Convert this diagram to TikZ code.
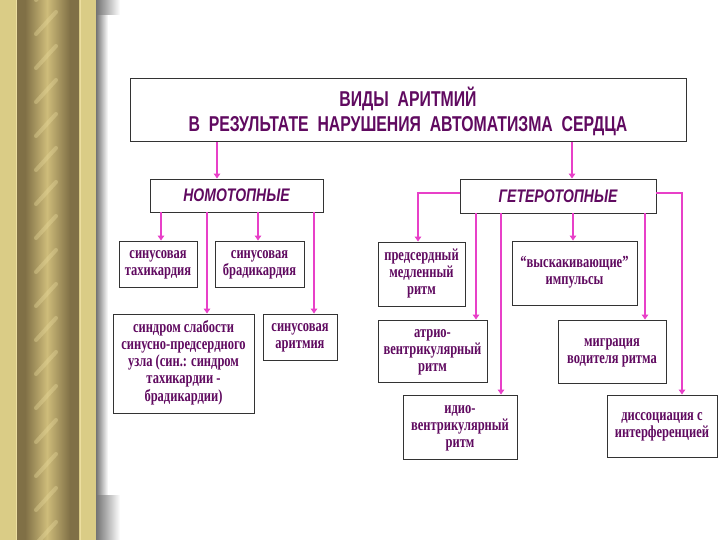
\documentclass[tikz,border=0pt]{standalone}
\usepackage{fontspec}
\setmainfont{Liberation Serif}
\newfontfamily\hdfont{Liberation Sans}
\usepackage{graphicx}
\usetikzlibrary{arrows.meta,calc}
\definecolor{txtc}{RGB}{96,10,96}
\definecolor{arrc}{RGB}{232,64,200}
\definecolor{khaki}{RGB}{218,204,134}
\definecolor{olivec}{RGB}{128,112,70}
\definecolor{goldc}{RGB}{206,188,122}
\definecolor{goldhi}{RGB}{236,222,160}
\newcommand\stx[1]{\scalebox{1}[1.35]{\begin{tabular}{@{}c@{}}#1\end{tabular}}}
\tikzset{
  boxst/.style={draw=black!80, line width=0.9pt, fill=white, inner sep=0pt,
    text=txtc, font=\fontsize{12.5}{12.6}\selectfont\bfseries},
  hdst/.style={boxst, font=\hdfont\bfseries\itshape\fontsize{14}{16}\selectfont},
  arr/.style={draw=arrc, line width=2pt, -{Triangle[width=6.5pt,length=5pt]}}
}
\begin{document}
\begin{tikzpicture}[x=1pt,y=-1pt]
\useasboundingbox (0,0) rectangle (720,540);
% background
\fill[white] (0,0) rectangle (720,540);
\fill[khaki] (0,0) rectangle (96,540);
\fill[olivec] (17,0) rectangle (25,540);
\shade[left color=olivec, right color=goldc] (25,0) rectangle (47,540);
\shade[left color=goldc, right color=olivec] (47,0) rectangle (70,540);
\fill[olivec] (70,0) rectangle (79,540);
\draw[goldhi, line width=0.8pt] (16,0) -- (16,540);
\draw[goldhi, line width=0.8pt] (80,0) -- (80,540);
\begin{scope}
  \clip (25,0) rectangle (70,540);
  \foreach \yy in {0,34,...,580}{
    \draw[goldhi, opacity=0.35, line width=4pt, line cap=round] (36,\yy) -- (56,\yy-22);
  }
\end{scope}
\shade[left color=black!55, right color=white] (96,15) rectangle (108,495);
\shade[left color=black!55, right color=white] (96,0) rectangle (120,15);
\shade[left color=black!55, right color=white] (96,495) rectangle (120,540);
% title
\node[boxst, minimum width=556pt, minimum height=63pt] (title) at (408,110) {};
\node[text=txtc, font=\hdfont\bfseries\fontsize{15.8}{18.8}\selectfont, inner sep=0pt] (ttl) at (408,113)
  {\scalebox{1}[1.36]{\begin{tabular}{@{}c@{}}ВИДЫ\ \ АРИТМИЙ\\ В\ \ РЕЗУЛЬТАТЕ\ \ НАРУШЕНИЯ\ \ АВТОМАТИЗМА\ \ СЕРДЦА\end{tabular}}};
% headers
\node[hdst, minimum width=173pt, minimum height=33pt] (nom) at (236.5,195.5) {\scalebox{1}[1.3]{НОМОТОПНЫЕ}};
\node[hdst, minimum width=196pt, minimum height=34pt] (get) at (558,196) {\scalebox{1}[1.3]{ГЕТЕРОТОПНЫЕ}};
% left boxes
\node[boxst, minimum width=78pt, minimum height=46pt] (tahi) at (158,264) {\stx{синусовая\\тахикардия}};
\node[boxst, minimum width=89pt, minimum height=46pt] (brad) at (259.5,264) {\stx{синусовая\\брадикардия}};
\node[boxst, minimum width=141pt, minimum height=99pt] (synd) at (183.5,363.5) {\stx{синдром слабости\\синусно-предсердного\\узла (син.: синдром\\тахикардии -\\брадикардии)}};
\node[boxst, minimum width=74pt, minimum height=46pt] (arit) at (300,337) {\stx{синусовая\\аритмия}};
% right boxes
\node[boxst, minimum width=87pt, minimum height=64pt] (pred) at (421.5,274) {\stx{предсердный\\медленный\\ритм}};
\node[boxst, minimum width=125pt, minimum height=64pt] (vysk) at (574.5,273) {\stx{“выскакивающие”\\импульсы}};
\node[boxst, minimum width=109pt, minimum height=62pt] (atrio) at (432.5,351) {\stx{атрио-\\вентрикулярный\\ритм}};
\node[boxst, minimum width=114pt, minimum height=64pt] (idio) at (460,427) {\stx{идио-\\вентрикулярный\\ритм}};
\node[boxst, minimum width=108pt, minimum height=63pt] (migr) at (612,351.5) {\stx{миграция\\водителя ритма}};
\node[boxst, minimum width=110pt, minimum height=62pt] (diss) at (662,426) {\stx{диссоциация с\\интерференцией}};
% x positions of connectors
\coordinate (xa) at (217,0);
\coordinate (xb) at (572,0);
\coordinate (xc) at (161,0);
\coordinate (xd) at (207,0);
\coordinate (xe) at (258,0);
\coordinate (xf) at (314,0);
\coordinate (xg) at (418,0);
\coordinate (xh) at (476,0);
\coordinate (xi) at (501,0);
\coordinate (xj) at (573,0);
\coordinate (xk) at (645,0);
\coordinate (xl) at (682,0);
\coordinate (yg) at (0,193);
% connectors
\draw[arr] (title.south -| xa) -- (nom.north -| xa);
\draw[arr] (title.south -| xb) -- (get.north -| xb);
\draw[arr] (nom.south -| xc) -- (tahi.north -| xc);
\draw[arr] (nom.south -| xd) -- (synd.north -| xd);
\draw[arr] (nom.south -| xe) -- (brad.north -| xe);
\draw[arr] (nom.south -| xf) -- (arit.north -| xf);
\draw[arr] (get.west |- yg) -- (xg |- yg) -- (pred.north -| xg);
\draw[arr] (get.south -| xh) -- (atrio.north -| xh);
\draw[arr] (get.south -| xi) -- (idio.north -| xi);
\draw[arr] (get.south -| xj) -- (vysk.north -| xj);
\draw[arr] (get.south -| xk) -- (migr.north -| xk);
\draw[arr] (get.east |- yg) -- (xl |- yg) -- (diss.north -| xl);
\end{tikzpicture}
\end{document}
